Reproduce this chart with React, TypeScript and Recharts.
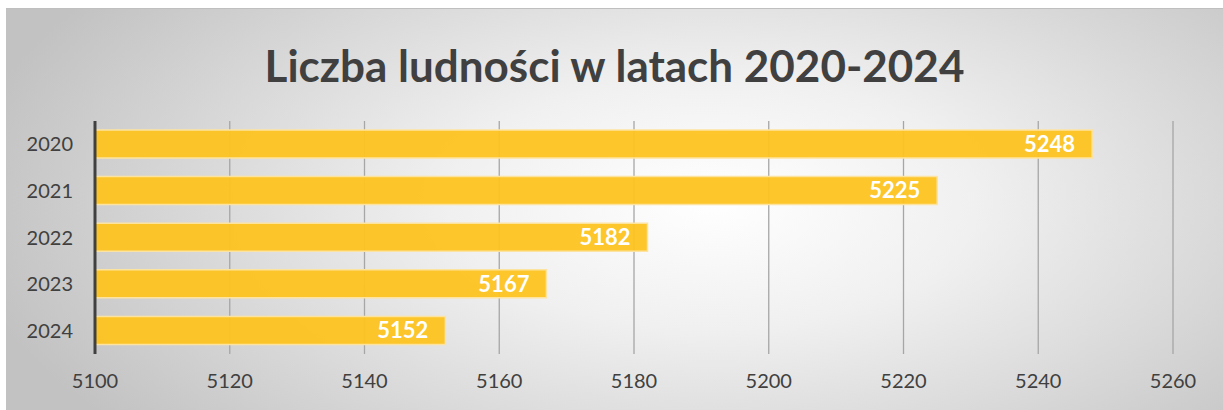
import { BarChart, Bar, XAxis, YAxis, CartesianGrid, LabelList } from "recharts";

const years = ["2020", "2021", "2022", "2023", "2024"];
const population = [5248, 5225, 5182, 5167, 5152];
const xTicks = [5100, 5120, 5140, 5160, 5180, 5200, 5220, 5240, 5260];

const data = years.map((y, i) => ({ year: y, value: population[i] }));

const FONT = "Lato, 'Open Sans', sans-serif";

export default function App() {
  return (
    <div
      style={{
        position: "absolute",
        left: 6,
        top: 8,
        width: 1217,
        height: 402,
        borderTop: "1px solid #bfbfbf",
        background:
          "radial-gradient(ellipse 62% 90% at 58% 48%, #ffffff 0%, #f0f0f0 35%, #c2c2c2 100%)",
        fontFamily: FONT,
      }}
    >
      <div
        style={{
          position: "absolute",
          top: 33,
          left: 0,
          width: "100%",
          textAlign: "center",
          fontSize: 44,
          fontWeight: 700,
          color: "#404040",
          lineHeight: "46px",
        }}
      >
        Liczba ludności w latach 2020-2024
      </div>
      <BarChart
        width={1217}
        height={401}
        data={data}
        layout="vertical"
        barSize={28}
        margin={{ top: 112, right: 50, left: 0, bottom: 0 }}
        style={{ position: "absolute", top: 0, left: 0 }}
      >
        <CartesianGrid horizontal={false} vertical stroke="#a6a6a6" strokeWidth={1.3} />
        <XAxis
          type="number"
          domain={[5100, 5260]}
          ticks={xTicks}
          allowDataOverflow
          axisLine={false}
          tickLine={false}
          tickSize={0}
          tickMargin={20}
          height={56}
          tick={{ fontSize: 20, fill: "#404040", fontFamily: FONT }}
        />
        <YAxis
          type="category"
          dataKey="year"
          width={89}
          axisLine={{ stroke: "#404040", strokeWidth: 3 }}
          tickLine={false}
          tickSize={0}
          tickMargin={22}
          tick={{ fontSize: 20, fill: "#404040", fontFamily: FONT }}
        />
        <Bar
          dataKey="value"
          fill="#fdc31f"
          fillOpacity={0.95}
          stroke="#fde3a0"
          strokeWidth={1.5}
          isAnimationActive={false}
        >
          <LabelList
            dataKey="value"
            position="insideRight"
            offset={17}
            fill="#ffffff"
            fontSize={22}
            fontWeight={700}
            fontFamily={FONT}
          />
        </Bar>
      </BarChart>
    </div>
  );
}
